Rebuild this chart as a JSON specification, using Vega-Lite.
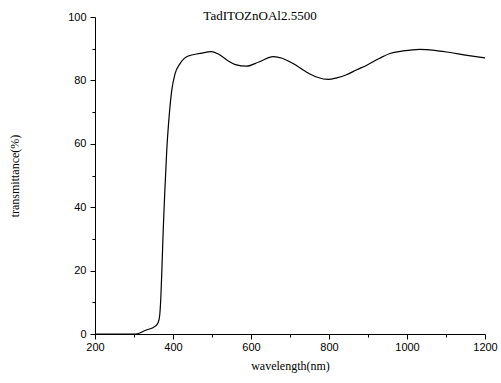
{
  "$schema": "https://vega.github.io/schema/vega-lite/v6.json",
  "width": 390,
  "height": 317,
  "autosize": {"type": "none"},
  "padding": {"left": 95, "top": 17, "right": 16, "bottom": 49},
  "background": "white",
  "title": {
    "text": "TadITOZnOAl2.5500",
    "font": "'Liberation Serif', 'Times New Roman', serif",
    "fontSize": 13,
    "fontWeight": "normal",
    "color": "black",
    "anchor": "middle",
    "dx": -30,
    "offset": -12
  },
  "config": {
    "view": {"stroke": null},
    "axis": {
      "domainColor": "black",
      "tickColor": "black",
      "labelColor": "black",
      "titleColor": "black",
      "labelFont": "'Liberation Sans', Arial, sans-serif",
      "labelFontSize": 11,
      "titleFont": "'Liberation Serif', 'Times New Roman', serif",
      "titleFontSize": 12,
      "titleFontWeight": "normal",
      "grid": false,
      "domainWidth": 1,
      "tickWidth": 1
    }
  },
  "data": {
    "values": [
      {"wl": 200, "t": 0},
      {"wl": 250, "t": 0},
      {"wl": 300, "t": 0},
      {"wl": 305, "t": 0},
      {"wl": 330, "t": 1.2},
      {"wl": 354, "t": 2.4},
      {"wl": 362, "t": 3.6},
      {"wl": 366, "t": 6},
      {"wl": 369, "t": 12},
      {"wl": 372, "t": 22},
      {"wl": 375, "t": 33},
      {"wl": 379, "t": 45},
      {"wl": 384, "t": 58},
      {"wl": 390, "t": 68.5},
      {"wl": 397, "t": 77},
      {"wl": 405, "t": 82},
      {"wl": 418, "t": 85.3},
      {"wl": 439, "t": 87.7},
      {"wl": 469, "t": 88.5},
      {"wl": 499, "t": 89.1},
      {"wl": 516, "t": 88.3},
      {"wl": 540, "t": 86.3},
      {"wl": 560, "t": 85},
      {"wl": 589, "t": 84.5},
      {"wl": 620, "t": 85.8},
      {"wl": 657, "t": 87.5},
      {"wl": 680, "t": 87},
      {"wl": 708, "t": 85.3},
      {"wl": 740, "t": 82.8},
      {"wl": 770, "t": 81},
      {"wl": 798, "t": 80.3},
      {"wl": 820, "t": 80.8},
      {"wl": 845, "t": 81.8},
      {"wl": 870, "t": 83.3},
      {"wl": 897, "t": 84.8},
      {"wl": 930, "t": 87},
      {"wl": 956, "t": 88.5},
      {"wl": 990, "t": 89.3},
      {"wl": 1033, "t": 89.8},
      {"wl": 1070, "t": 89.5},
      {"wl": 1110, "t": 88.8},
      {"wl": 1150, "t": 88},
      {"wl": 1200, "t": 87.1}
    ]
  },
  "mark": {"type": "line", "color": "black", "strokeWidth": 1.2, "interpolate": "monotone"},
  "encoding": {
    "x": {
      "field": "wl",
      "type": "quantitative",
      "scale": {"domain": [200, 1200], "nice": false, "zero": false},
      "axis": {
        "title": "wavelength(nm)",
        "format": "d",
        "values": [200, 300, 400, 500, 600, 700, 800, 900, 1000, 1100, 1200],
        "labelExpr": "datum.value % 200 === 0 ? datum.label : ''",
        "tickSize": {"condition": {"test": "datum.value % 200 === 0", "value": 5}, "value": 3},
        "labelPadding": 2,
        "titlePadding": 8,
        "labelFlush": false
      }
    },
    "y": {
      "field": "t",
      "type": "quantitative",
      "scale": {"domain": [0, 100], "nice": false},
      "axis": {
        "title": "transmittance(%)",
        "format": "d",
        "values": [0, 10, 20, 30, 40, 50, 60, 70, 80, 90, 100],
        "labelExpr": "datum.value % 20 === 0 ? datum.label : ''",
        "tickSize": {"condition": {"test": "datum.value % 20 === 0", "value": 5}, "value": 3},
        "labelPadding": 4,
        "titlePadding": 46,
        "labelFlush": false
      }
    }
  }
}
